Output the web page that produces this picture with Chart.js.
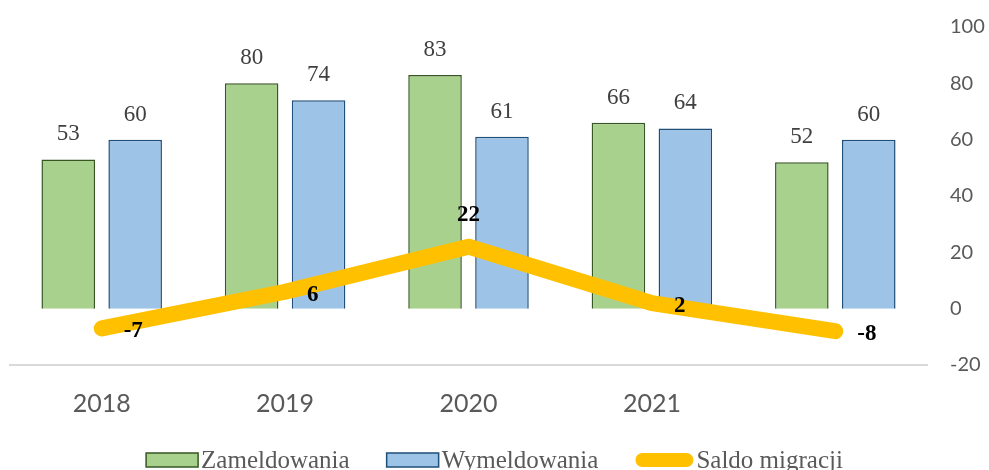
<!DOCTYPE html>
<html>
<head>
<meta charset="utf-8">
<script src="https://cdn.jsdelivr.net/npm/chart.js@4"></script>
<style>
  html, body { margin: 0; padding: 0; background: #fff; }
  .chart-container { width: 989px; height: 470px; position: relative; }
</style>
</head>
<body>
<div class="chart-container"><canvas id="migChart"></canvas></div>
<script>
// dane
const years = ['2018', '2019', '2020', '2021', ''];
const zameldowania = [53, 80, 83, 66, 52];
const wymeldowania = [60, 74, 61, 64, 60];
const saldo = [-7, 6, 22, 2, -8];
const yTicks = [-20, 0, 20, 40, 60, 80, 100];

const green = '#a9d18e', greenBorder = '#375623';
const blue = '#9dc3e6', blueBorder = '#1f4e79';
const gold = '#ffc000';
const serif = '"Liberation Serif", "DejaVu Serif", serif';
const sans = 'Lato, "Open Sans", sans-serif';

// etykiety wartości (bez pluginu datalabels)
const valueLabels = {
    id: 'valueLabels',
    afterDatasetsDraw(chart) {
        const ctx = chart.ctx;
        ctx.save();
        chart.data.datasets.forEach((ds, i) => {
            const meta = chart.getDatasetMeta(i);
            meta.data.forEach((el, j) => {
                const v = ds.data[j];
                ctx.textBaseline = 'middle';
                if (ds.type === 'line') {
                    ctx.font = 'bold 23px ' + serif;
                    ctx.fillStyle = '#000';
                    if (j === 2) {
                        ctx.textAlign = 'center';
                        ctx.fillText(v, el.x, el.y - 32);
                    } else {
                        ctx.textAlign = 'left';
                        ctx.fillText(v, el.x + 22, el.y + 3);
                    }
                } else {
                    ctx.font = '23px ' + serif;
                    ctx.fillStyle = '#404040';
                    ctx.textAlign = 'center';
                    ctx.fillText(v, el.x, el.y - 25);
                }
            });
        });
        ctx.restore();
    }
};

// legenda rysowana ręcznie (odstępy jak w Excelu)
const bottomLegend = {
    id: 'bottomLegend',
    afterDraw(chart) {
        const ctx = chart.ctx;
        const order = [1, 2, 0];
        const y = 460;
        ctx.save();
        ctx.font = '25px ' + serif;
        const items = order.map(i => {
            const ds = chart.data.datasets[i];
            const sw = ds.type === 'line' ? 58 : 52;
            return { ds, sw, tw: ctx.measureText(ds.label).width };
        });
        const gapText = 3, gapItem = 37;
        let total = items.reduce((a, it) => a + it.sw + gapText + it.tw, 0) + gapItem * (items.length - 1);
        let x = chart.width / 2 - total / 2;
        items.forEach(it => {
            if (it.ds.type === 'line') {
                ctx.strokeStyle = it.ds.borderColor;
                ctx.lineWidth = 14;
                ctx.lineCap = 'round';
                ctx.beginPath();
                ctx.moveTo(x + 7, y);
                ctx.lineTo(x + it.sw - 7, y);
                ctx.stroke();
            } else {
                ctx.fillStyle = it.ds.backgroundColor;
                ctx.fillRect(x, y - 7, it.sw, 14);
                ctx.strokeStyle = it.ds.borderColor;
                ctx.lineWidth = 1.5;
                ctx.strokeRect(x, y - 7, it.sw, 14);
            }
            x += it.sw + gapText;
            ctx.fillStyle = '#595959';
            ctx.textAlign = 'left';
            ctx.textBaseline = 'middle';
            ctx.fillText(it.ds.label, x, y + 1);
            x += it.tw + gapItem;
        });
        ctx.restore();
    }
};

const ctx = document.getElementById('migChart').getContext('2d');
new Chart(ctx, {
    data: {
        labels: years,
        datasets: [
            {
                type: 'line',
                label: 'Saldo migracji',
                data: saldo,
                borderColor: gold,
                backgroundColor: gold,
                borderWidth: 16,
                borderCapStyle: 'round',
                borderJoinStyle: 'round',
                pointRadius: 0,
                tension: 0,
                order: 0
            },
            {
                type: 'bar',
                label: 'Zameldowania',
                data: zameldowania,
                backgroundColor: green,
                borderColor: greenBorder,
                borderWidth: 1.5,
                categoryPercentage: 0.73,
                barPercentage: 0.8,
                order: 1
            },
            {
                type: 'bar',
                label: 'Wymeldowania',
                data: wymeldowania,
                backgroundColor: blue,
                borderColor: blueBorder,
                borderWidth: 1.5,
                categoryPercentage: 0.73,
                barPercentage: 0.8,
                order: 1
            }
        ]
    },
    options: {
        responsive: true,
        maintainAspectRatio: false,
        animation: false,
        layout: { padding: { left: 10, right: 0, top: 25, bottom: 40 } },
        plugins: {
            legend: { display: false },
            tooltip: { enabled: false }
        },
        scales: {
            x: {
                grid: { display: false },
                border: { display: true, color: '#d9d9d9', width: 2 },
                ticks: { font: { family: sans, size: 25 }, color: '#595959', padding: 16 },
                afterFit: s => { s.height = 65; }
            },
            y: {
                position: 'right',
                min: -20,
                max: 100,
                afterBuildTicks: s => { s.ticks = yTicks.map(v => ({ value: v })); },
                grid: { display: false },
                border: { display: false },
                ticks: { font: { family: sans, size: 20 }, color: '#595959', padding: 15 },
                afterFit: s => { s.width = 62; }
            }
        }
    },
    plugins: [valueLabels, bottomLegend]
});
</script>
</body>
</html>
